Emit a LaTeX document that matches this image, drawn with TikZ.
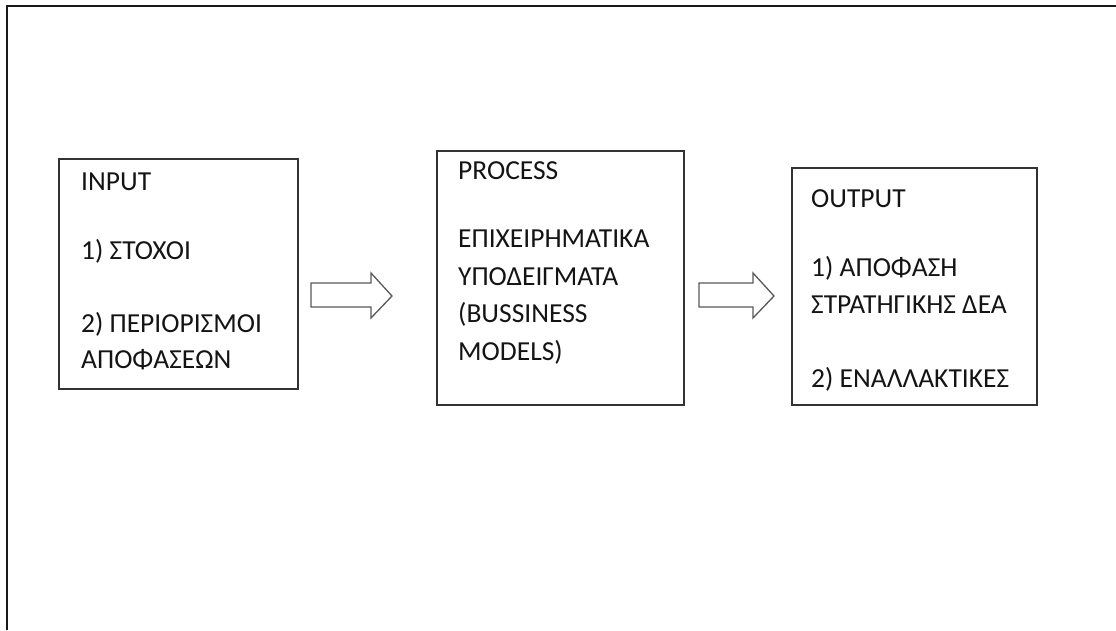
\documentclass[tikz,border=0pt]{standalone}
\usepackage{fontspec}
\setmainfont{Carlito}
\begin{document}
\begin{tikzpicture}[x=1pt,y=-1pt,
  stagebox/.style={draw=black!80,line width=1.4pt},
  label/.style={anchor=base west,inner sep=0pt,font=\fontsize{27.5}{32}\selectfont,text=black!92},
  blockarrow/.style={draw=black!65,line width=1.3pt,fill=white,line join=miter}]
  \useasboundingbox (0,0) rectangle (1116,630);
  % open frame: top and left edges only
  \draw[line width=2.4pt,black!90] (7,630) -- (7,5.7) -- (1116,5.7);

  % stage boxes
  \draw[stagebox] (59,159) rectangle (298,389);
  \draw[stagebox] (437,151) rectangle (684,405);
  \draw[stagebox] (792,168) rectangle (1037,405);

  % INPUT
  \node[label] (in0) at (81,190) {INPUT};
  \node[label] (in1) at (81,259) {1) ΣΤΟΧΟΙ};
  \node[label] (in2) at (81,332) {2) ΠΕΡΙΟΡΙΣΜΟΙ};
  \node[label] (in3) at (81,368) {ΑΠΟΦΑΣΕΩΝ};

  % PROCESS
  \node[label] (pr0) at (458,179) {PROCESS};
  \node[label] (pr1) at (458,247) {ΕΠΙΧΕΙΡΗΜΑΤΙΚΑ};
  \node[label] (pr2) at (458,285) {ΥΠΟΔΕΙΓΜΑΤΑ};
  \node[label] (pr3) at (458,322) {(BUSSINESS};
  \node[label] (pr4) at (458,360) {MODELS)};

  % OUTPUT
  \node[label] (ou0) at (811,207) {OUTPUT};
  \node[label] (ou1) at (811,276) {1) ΑΠΟΦΑΣΗ};
  \node[label] (ou2) at (811,313) {ΣΤΡΑΤΗΓΙΚΗΣ ΔΕΑ};
  \node[label] (ou3) at (811,387) {2) ΕΝΑΛΛΑΚΤΙΚΕΣ};

  % block arrows between the stages
  \draw[blockarrow] (311,283) -- (371,283) -- (371,273) -- (392,296)
        -- (371,318) -- (371,307) -- (311,307) -- cycle;
  \draw[blockarrow] (699,283) -- (753,283) -- (753,273) -- (774,296)
        -- (753,318) -- (753,307) -- (699,307) -- cycle;
\end{tikzpicture}
\end{document}
